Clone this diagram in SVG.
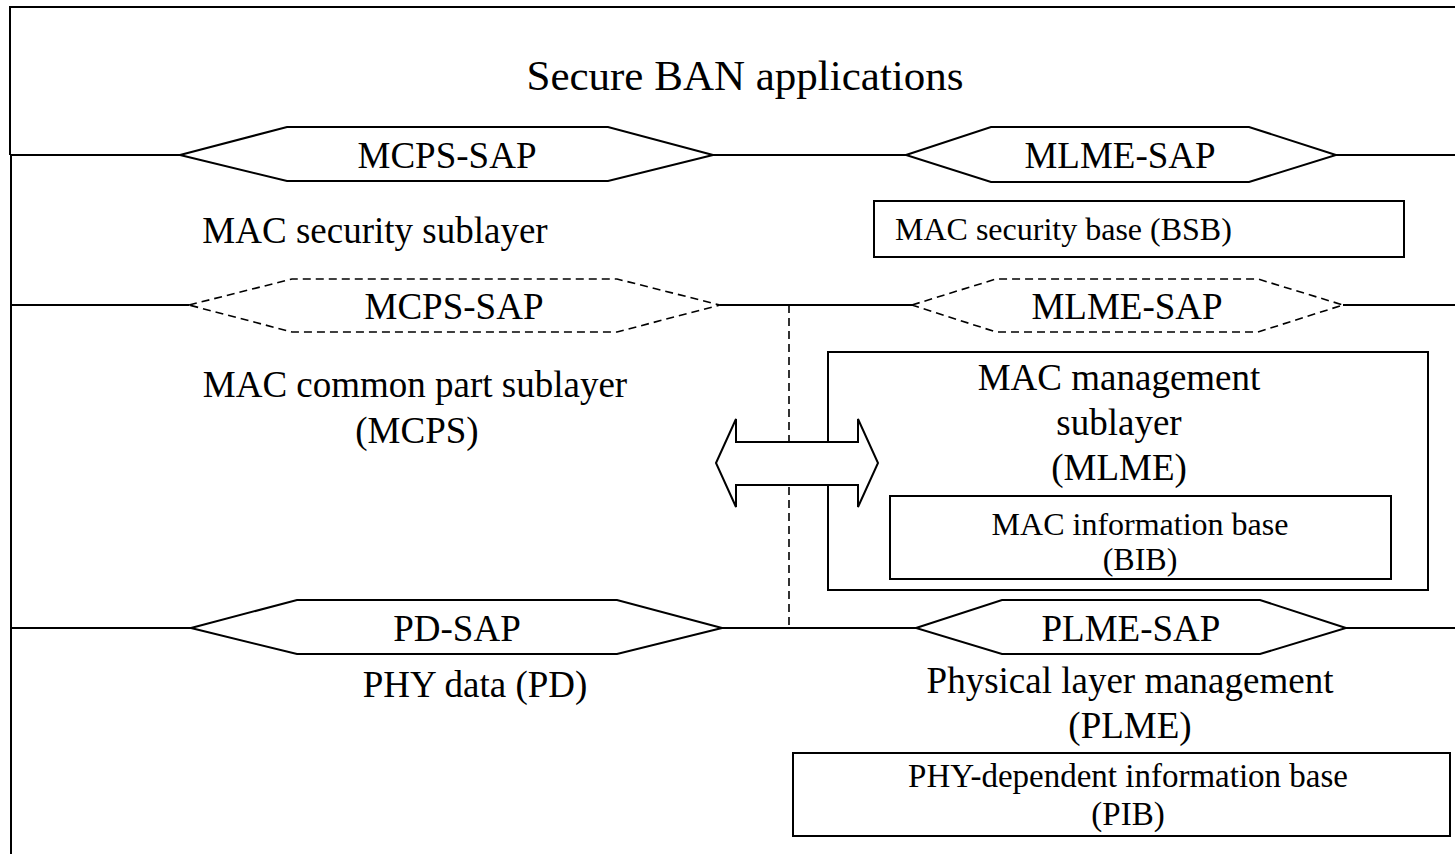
<svg xmlns="http://www.w3.org/2000/svg" width="1455" height="854" viewBox="0 0 1455 854">
<style>
  .ln { stroke: #000; stroke-width: 2; fill: none; }
  .dash { stroke: #000; stroke-width: 1.6; fill: #fff; stroke-dasharray: 8 5; }
  .hex { stroke: #000; stroke-width: 2; fill: #fff; }
  .box { stroke: #000; stroke-width: 2; fill: #fff; }
  text { font-family: "Liberation Serif", "Times New Roman", serif; fill: #000; }
  .t43 { font-size: 43px; text-anchor: middle; }
  .t37 { font-size: 37px; text-anchor: middle; }
  .t32 { font-size: 32px; text-anchor: middle; }
</style>
<rect width="1455" height="854" fill="#fff"/>

<g id="connectors">
  <path class="ln" d="M10,155 V7 H1455"/>
  <path class="ln" d="M11,155 V854"/>
  <path class="ln" d="M10,155 H180 M713,155 H906 M1336,155 H1455"/>
  <path class="ln" d="M10,305 H189 M720,305 H912 M1343,305 H1455"/>
  <path class="ln" d="M10,628 H191 M722,628 H916 M1346,628 H1455"/>
  <path d="M789,305 V626" stroke="#000" stroke-width="1.6" stroke-dasharray="8 5" fill="none"/>
</g>

<g id="title">
  <text class="t43" x="745" y="90">Secure BAN applications</text>
</g>

<g id="mcps-sap-1">
  <path class="hex" d="M180,155 L287,127 L608,127 L713,155 L608,181 L287,181 Z"/>
  <text class="t37" x="447" y="168">MCPS-SAP</text>
</g>

<g id="mlme-sap-1">
  <path class="hex" d="M906,155 L991,127 L1249,127 L1336,155 L1249,182 L991,182 Z"/>
  <text class="t37" x="1120" y="168">MLME-SAP</text>
</g>

<g id="mac-security-sublayer">
  <text class="t37" x="375" y="243">MAC security sublayer</text>
</g>

<g id="bsb">
  <rect class="box" x="874" y="201" width="530" height="56"/>
  <text x="895" y="240" font-size="32">MAC security base (BSB)</text>
</g>

<g id="mcps-sap-2">
  <path class="dash" d="M189,305 L292,279 L617,279 L720,305 L617,332 L292,332 Z"/>
  <text class="t37" x="454" y="319">MCPS-SAP</text>
</g>

<g id="mlme-sap-2">
  <path class="dash" d="M912,305 L996,279 L1258,279 L1343,305 L1258,332 L996,332 Z"/>
  <text class="t37" x="1127" y="319">MLME-SAP</text>
</g>

<g id="mcps">
  <text class="t37" x="415" y="397">MAC common part sublayer</text>
  <text class="t37" x="417" y="443">(MCPS)</text>
</g>

<g id="mlme">
  <rect class="box" x="828" y="352" width="600" height="238"/>
  <text class="t37" x="1119" y="390">MAC management</text>
  <text class="t37" x="1119" y="435">sublayer</text>
  <text class="t37" x="1119" y="480">(MLME)</text>
</g>

<g id="bib">
  <rect class="box" x="890" y="496" width="501" height="83"/>
  <text class="t32" x="1140" y="535">MAC information base</text>
  <text class="t32" x="1140" y="570">(BIB)</text>
</g>

<g id="double-arrow">
  <path class="hex" d="M716,463 L736,419 L736,442 L858,442 L858,419 L878,463 L858,507 L858,485 L736,485 L736,507 Z"/>
</g>

<g id="pd-sap">
  <path class="hex" d="M191,628 L297,600 L617,600 L722,628 L617,654 L297,654 Z"/>
  <text class="t37" x="457" y="641">PD-SAP</text>
</g>

<g id="plme-sap">
  <path class="hex" d="M916,628 L1002,600 L1260,600 L1346,628 L1260,654 L1002,654 Z"/>
  <text class="t37" x="1131" y="641">PLME-SAP</text>
</g>

<g id="pd">
  <text class="t37" x="475" y="697">PHY data (PD)</text>
</g>

<g id="plme">
  <text class="t37" x="1130" y="693">Physical layer management</text>
  <text class="t37" x="1130" y="738">(PLME)</text>
</g>

<g id="pib">
  <rect class="box" x="793" y="753" width="657" height="83"/>
  <text x="1128" y="787" font-size="33" text-anchor="middle">PHY-dependent information base</text>
  <text x="1128" y="825" font-size="33" text-anchor="middle">(PIB)</text>
</g>
</svg>
